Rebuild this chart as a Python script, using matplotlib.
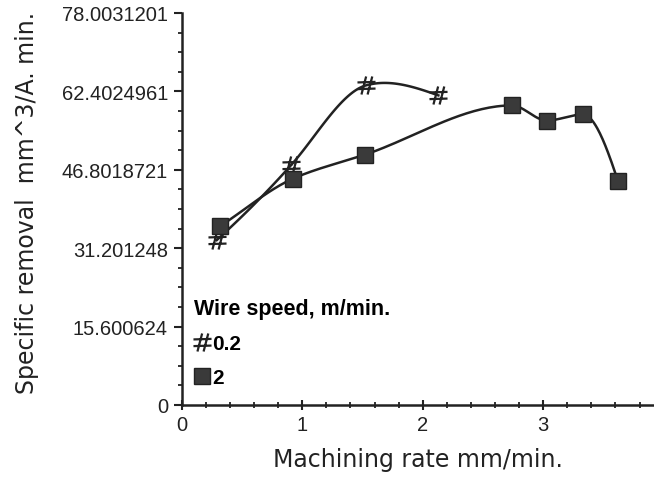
import numpy as np
import matplotlib
matplotlib.use("Agg")
import matplotlib.pyplot as plt
from matplotlib.ticker import MultipleLocator, FixedLocator
from matplotlib.path import Path

# Data
x_02 = [0.29, 0.91, 1.53, 2.13]
y_02 = [32.8, 47.8, 63.6, 61.6]
x_2 = [0.32, 0.92, 1.52, 2.74, 3.03, 3.33, 3.62]
y_2 = [35.6, 45.0, 49.8, 59.6, 56.6, 57.8, 44.6]
y_ticks = [0, 15.600624, 31.201248, 46.8018721, 62.4024961, 78.0031201]
y_tick_labels = ["0", "15.600624", "31.201248", "46.8018721", "62.4024961", "78.0031201"]
x_ticks = [0, 1, 2, 3]
legend_labels = ["0.2", "2"]


def hermite(xs, ys, m, n=40):
    xs = np.asarray(xs, float); ys = np.asarray(ys, float)
    X, Y = [], []
    for i in range(len(xs) - 1):
        h = xs[i + 1] - xs[i]
        t = np.linspace(0, 1, n)
        h00 = 2 * t**3 - 3 * t**2 + 1
        h10 = t**3 - 2 * t**2 + t
        h01 = -2 * t**3 + 3 * t**2
        h11 = t**3 - t**2
        X.append(xs[i] + t * h)
        Y.append(h00 * ys[i] + h10 * h * m[i] + h01 * ys[i + 1] + h11 * h * m[i + 1])
    return np.concatenate(X), np.concatenate(Y)


def natural_slopes(xs, ys):
    xs = np.asarray(xs, float); ys = np.asarray(ys, float)
    n = len(xs)
    h = np.diff(xs)
    A = np.zeros((n, n)); r = np.zeros(n)
    A[0, 0] = 1; A[-1, -1] = 1
    for i in range(1, n - 1):
        A[i, i - 1] = h[i - 1]; A[i, i] = 2 * (h[i - 1] + h[i]); A[i, i + 1] = h[i]
        r[i] = 6 * ((ys[i + 1] - ys[i]) / h[i] - (ys[i] - ys[i - 1]) / h[i - 1])
    M = np.linalg.solve(A, r)
    m = np.zeros(n)
    for i in range(n - 1):
        m[i] = (ys[i + 1] - ys[i]) / h[i] - h[i] * (2 * M[i] + M[i + 1]) / 6
    m[-1] = (ys[-1] - ys[-2]) / h[-1] + h[-1] * (M[-2] + 2 * M[-1]) / 6
    return m


def pchip_slopes(xs, ys):
    xs = np.asarray(xs, float); ys = np.asarray(ys, float)
    h = np.diff(xs); d = np.diff(ys) / h
    n = len(xs); m = np.zeros(n)
    for i in range(1, n - 1):
        if d[i - 1] * d[i] > 0:
            w1 = 2 * h[i] + h[i - 1]; w2 = h[i] + 2 * h[i - 1]
            m[i] = (w1 + w2) / (w1 / d[i - 1] + w2 / d[i])
    m[0] = d[0]; m[-1] = d[-1] * 1.6
    return m


hash_marker = Path(
    [(-0.28, -0.5), (-0.02, 0.5), (0.06, -0.5), (0.32, 0.5),
     (-0.5, 0.17), (0.5, 0.2), (-0.5, -0.2), (0.5, -0.17)],
    [Path.MOVETO, Path.LINETO, Path.MOVETO, Path.LINETO,
     Path.MOVETO, Path.LINETO, Path.MOVETO, Path.LINETO])

fig = plt.figure(figsize=(6.54, 4.81), dpi=100)
ax = fig.add_axes([0.278, 0.156, 0.722, 0.815])

c = "#222222"
m02 = 0.55 * natural_slopes(x_02, y_02) + 0.45 * pchip_slopes(x_02, y_02)
m02[0] = natural_slopes(x_02, y_02)[0]
sx, sy = hermite(x_02, y_02, m02)
ax.plot(sx, sy, color=c, lw=1.8)
l1, = ax.plot(x_02, y_02, ls="none", marker=hash_marker, ms=13, mew=1.6, color=c, label=legend_labels[0])
sx, sy = hermite(x_2, y_2, pchip_slopes(x_2, y_2))
ax.plot(sx, sy, color=c, lw=1.8)
l2, = ax.plot(x_2, y_2, ls="none", marker="s", ms=11, color="#3a3a3a", mec="#222222", label=legend_labels[1])

ax.set_xlim(0, 3.92)
ax.set_ylim(0, 78.0031201)
ax.yaxis.set_major_locator(FixedLocator(y_ticks))
ax.set_yticklabels(y_tick_labels)
ax.yaxis.set_minor_locator(MultipleLocator(15.600624 / 4))
ax.xaxis.set_major_locator(FixedLocator(x_ticks))
ax.xaxis.set_minor_locator(MultipleLocator(0.2))

for s in ["top", "right"]:
    ax.spines[s].set_visible(False)
for s in ["left", "bottom"]:
    ax.spines[s].set_linewidth(1.8)
    ax.spines[s].set_color(c)

ax.tick_params(axis="y", which="major", direction="out", length=6, width=1.5, labelsize=14.5, colors=c, pad=4)
ax.tick_params(axis="y", which="minor", direction="out", length=3, width=1.3, colors=c)
ax.tick_params(axis="x", which="major", direction="inout", length=7, width=1.5, labelsize=14.5, colors=c, pad=4)
ax.tick_params(axis="x", which="minor", direction="inout", length=4, width=1.3, colors=c)
for lab in ax.get_xticklabels() + ax.get_yticklabels():
    lab.set_family("Liberation Sans")

ax.set_xlabel("Machining rate mm/min.", fontsize=17, family="DejaVu Sans", color=c, labelpad=9)
fig.text(0.042, 0.578, "Specific removal  mm^3/A. min.", rotation=90, fontsize=17,
         family="DejaVu Sans", color=c, ha="center", va="center")

leg = ax.legend(handles=[l1, l2], loc="lower left", bbox_to_anchor=(0.0, 0.014),
                title="Wire speed, m/min.", frameon=False,
                prop={"weight": "bold", "size": 15, "family": "Liberation Sans"},
                handlelength=0.7, handletextpad=0.15, labelspacing=0.72, borderaxespad=0.2)
leg.get_title().set_fontweight("bold")
leg.get_title().set_fontsize(15.5)
leg.get_title().set_family("Liberation Sans")
leg._legend_box.align = "left"

fig.savefig("out.png", dpi=100)
